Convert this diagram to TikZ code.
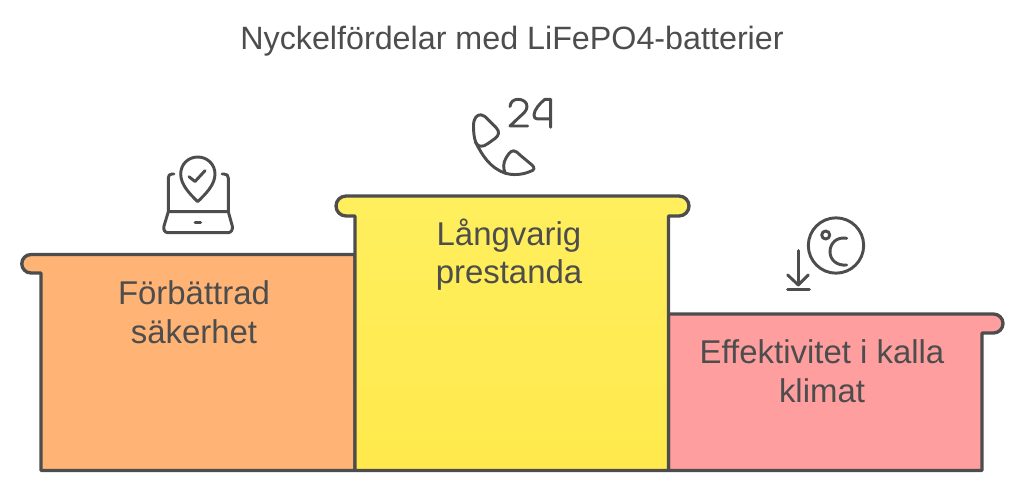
\documentclass[tikz,border=0pt]{standalone}
\usepackage{fontspec}
\setmainfont{Liberation Sans}
\definecolor{ink}{HTML}{4D4D4D}
\definecolor{txt}{HTML}{4D4D4D}
\definecolor{orangefill}{HTML}{FFB476}
\definecolor{yellowfill}{HTML}{FFEF5E}
\definecolor{yellowlow}{HTML}{FFE94C}
\definecolor{redfill}{HTML}{FF9E9E}
\tikzset{
  podium/.style={draw=ink,line width=2.5pt,line join=round},
  icon/.style={draw=ink,line width=2.2pt,line cap=round,line join=round},
  label/.style={text=txt,font=\fontsize{24.7pt}{29.25pt}\selectfont,align=center,inner sep=0pt},
  titlelabel/.style={text=txt,font=\fontsize{24.2pt}{29pt}\selectfont,inner sep=0pt},
}
\begin{document}
\begin{tikzpicture}[x=0.75pt,y=-0.75pt]
\useasboundingbox (0,0) rectangle (1024,492);
% podiums
\path[podium,fill=orangefill] (355,254.5) -- (31,254.5) arc[start angle=270,end angle=90,radius=9.25] -- (41,273) -- (41,470.5) -- (355,470.5) -- cycle;
\path[podium,fill=redfill] (668.5,314) -- (993.5,314) arc[start angle=270,end angle=450,radius=9.5] -- (982,333) -- (982,470.5) -- (668.5,470.5) -- cycle;
\path[podium,top color=yellowfill,middle color=yellowfill,bottom color=yellowlow] (346,196) arc[start angle=270,end angle=90,radius=10] -- (355,216) -- (355,470.5) -- (668.5,470.5) -- (668.5,216) -- (679,216) arc[start angle=90,end angle=-90,radius=10] -- cycle;
% texts
\node[titlelabel] (title) at (512,41.5) {Nyckelfördelar med LiFePO4-batterier};
\node[label] (t1) at (194,312) {Förbättrad\\säkerhet};
\node[label,font=\fontsize{24.7pt}{28.5pt}\selectfont] (t2) at (509,255) {Långvarig\\prestanda};
\node[label] (t3) at (822,371) {Effektivitet i kalla\\klimat};
% laptop icon
\path[icon] (197.7,201.7) .. controls (190,194) and (180.7,185) .. (180.7,174) .. controls (180.7,164.5) and (188,157) .. (197.7,157) .. controls (207.5,157) and (215,164.5) .. (215,174) .. controls (215,185) and (205.5,194) .. (197.7,201.7) -- cycle;
\path[icon] (189,176.7) -- (195,181.5) -- (205,170.7);
\path[icon] (174,174) -- (172,174) .. controls (169.5,174) and (168.3,175.5) .. (168.3,178) -- (168.3,211.7);
\path[icon] (222,174) -- (224,174) .. controls (227,174) and (228.3,175.5) .. (228.3,178) -- (228.3,211.7);
\path[icon] (168.3,211.7) -- (228.3,211.7) -- (232.3,226) .. controls (233,230) and (231,232.7) .. (228,232.7) -- (168,232.7) .. controls (165,232.7) and (163,230) .. (164,226) -- cycle;
\path[icon] (195,222.7) -- (200.7,222.7);
% phone icon
\path[icon] (473.5,126) .. controls (473.5,118) and (477,114.5) .. (481,114.8) .. controls (484,115) and (486,117.5) .. (488,119.5) -- (496,127.5) .. controls (500,131.5) and (499,135.5) .. (495,138.5) -- (488,143.5) .. controls (483,147.5) and (478,147) .. (476,143) .. controls (474,138) and (473.5,132) .. (473.5,126) -- cycle;
\path[icon] (475.5,142) .. controls (482,155) and (490,168) .. (505,173) .. controls (512,175.5) and (522,175) .. (530,171.5);
\path[icon] (505.5,173.5) .. controls (503,169) and (503,163) .. (506,158) .. controls (508,155) and (510,151) .. (513.5,150.8) .. controls (516,150.8) and (518,153) .. (520,155) -- (532,165) .. controls (535.5,168) and (534,170.5) .. (530,171.5);
\path[icon] (510,106.5) .. controls (510.5,102) and (513.5,99.3) .. (518,99.3) .. controls (523,99.3) and (527,102) .. (527,106.5) .. controls (527,110.5) and (523.5,113.5) .. (520,116.5) -- (510,126) -- (527.7,126);
\path[icon] (550.7,127.3) -- (550.7,99.3) -- (545,99.3) .. controls (540,103) and (534,110) .. (534,115) .. controls (534,117.5) and (535,118.8) .. (537,118.8) -- (550.7,118.8);
% thermometer icon
\node[icon,circle,inner sep=0pt,minimum size=41.5pt] (bigc) at (836,245.5) {};
\node[icon,circle,inner sep=0pt,minimum size=6pt] (smallc) at (825.7,235) {};
\path[icon] (846.7,238.3) .. controls (837,236.5) and (830,243) .. (830,251.7) .. controls (830,260) and (837,266) .. (846.7,265);
\path[icon] (798.3,250.7) -- (798.3,285);
\path[icon] (787.7,275) -- (798.3,285) -- (808.3,275);
\path[icon] (787.7,289.3) -- (809.3,289.3);
\end{tikzpicture}
\end{document}
